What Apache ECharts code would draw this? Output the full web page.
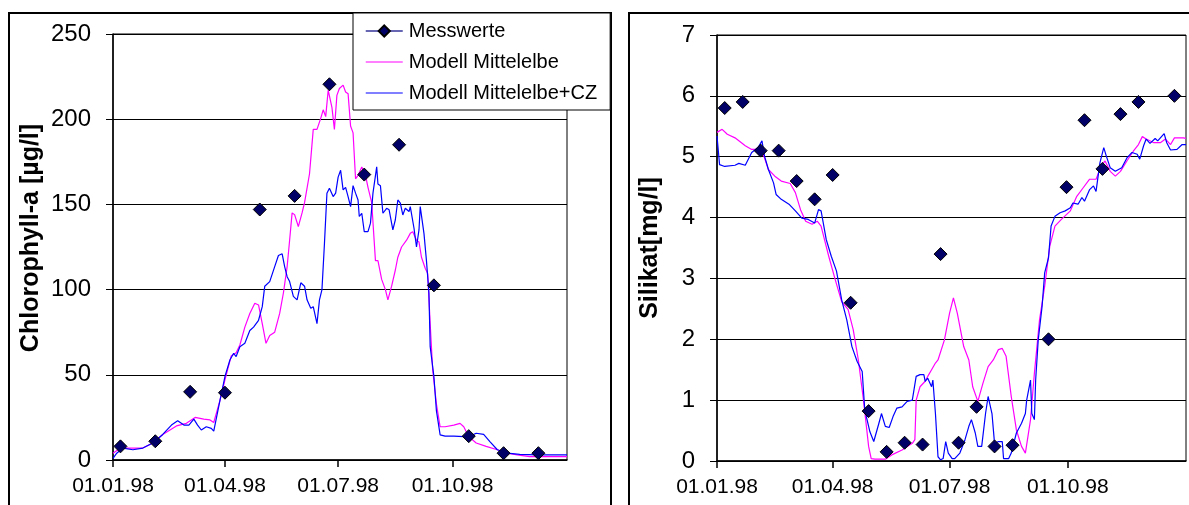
<!DOCTYPE html>
<html>
<head>
<meta charset="utf-8">
<title>Chlorophyll-a / Silikat</title>
<script src="https://cdn.jsdelivr.net/npm/echarts@6.0.0/dist/echarts.min.js"></script>
<style>
    html, body { margin: 0; padding: 0; background: #fff; }
    #main { width: 1189px; height: 505px; }
</style>
</head>
<body>
<div id="main"></div>
<script>
// x achse: Tage ab 01.01.98
var tickDays = [0, 90, 181, 273];
var tickLabels = ['01.01.98', '01.04.98', '01.07.98', '01.10.98'];

var seriesNames = ['Messwerte', 'Modell Mittelelbe', 'Modell Mittelelbe+CZ'];

// Chlorophyll-a [µg/l]
var chlMessDays = [6, 34, 62, 90, 118, 146, 174, 202, 230, 258, 286, 314, 342];
var chlMessValues = [8, 11, 40, 39.5, 147, 155, 220.5, 167.5, 185, 102.5, 14, 4, 4];

var chlMittelelbe = [[0,4],[6,7],[14,7],[24,7],[32,10],[40,15],[51,20],[59,21.5],[66,25],[73,24],[78,23.5],[81,22],[86,35],[90,47],[95,61],[99,63],[102,67.5],[106,78],[110,86],[114,92],[117,91],[120,80],[123,68.5],[126,73],[130,75],[134,86],[137,98],[140,113.5],[142,129],[144,145],[146,144],[149,137],[152,145],[154,151],[158,168],[161,194],[164,194],[167,200.5],[169,205.5],[171,201.5],[173,217],[176,207],[178,194],[180,214],[182,218],[185,220],[187,216],[189,215],[191,196],[193,192],[195,165],[197,167],[200,172],[203,167],[205,160],[208,151],[211,117],[213,117],[216,106],[219,100],[221,94],[224,102],[227,111.5],[229,119],[232,125],[236,129],[239,133],[241,134],[244,129],[246,128],[248,119],[251,112.5],[253,109.5],[255,80],[257,53],[260,33],[263,19.5],[267,19.5],[274,20.5],[279,21.5],[282,19.5],[286,13.7],[292,10],[300,8],[309,6],[317,4],[325,3],[335,2],[349,2],[365,2]];

var chlMittelelbeCz = [[0,1],[3,4],[8,7],[16,6],[24,7],[32,10],[40,15],[47,20.5],[52,23],[57,20.5],[61,20.5],[65,24],[68,20.5],[71,17.6],[75,19.5],[79,18.6],[81,17],[86,35],[90,49],[94,58.7],[97,62.6],[99,60.7],[102,66.5],[106,68.5],[110,76],[113,78],[117,82],[120,90],[122,102],[126,104.7],[130,113.5],[133,120],[136,121],[138,113.5],[140,107.6],[142,104.7],[145,96],[148,94],[151,104],[154,102],[156,94],[159,89],[161,90],[164,80],[166,94],[168,100],[170,127],[172,156.6],[174,159.5],[177,154.6],[179,156.6],[181,166],[183,170],[185,158.5],[187,160],[189,154.6],[191,148.7],[193,161],[195,156.6],[197,152.6],[198,142.9],[200,144.8],[202,134],[205,134],[207,139],[209,156.6],[212,172],[213,162],[215,161],[217,144.8],[220,147.7],[222,146.8],[225,135],[227,141],[229,152.6],[231,150.7],[233,143.8],[235,147.7],[238,145.8],[239,148.7],[242,136],[244,125],[246,135],[247,148.7],[250,133],[252,117],[254,98],[255,66.5],[258,49],[260,29],[263,14.7],[267,14],[274,14],[282,13.7],[287,14],[292,15.7],[298,15],[303,10.8],[309,6],[317,4],[327,3.3],[341,3],[365,3]];

// Silikat [mg/l]
var silMessDays = [6, 20, 34, 48, 62, 76, 90, 104, 118, 132, 146, 160, 174, 188, 202, 216, 230, 258, 272, 286, 300, 314, 328, 356];
var silMessValues = [5.8, 5.9, 5.1, 5.1, 4.6, 4.3, 4.7, 2.6, 0.82, 0.15, 0.3, 0.27, 3.4, 0.3, 0.89, 0.24, 0.26, 2.0, 4.5, 5.6, 4.8, 5.7, 5.9, 6.0];

var silMittelelbe = [[0,5.4],[4,5.45],[8,5.37],[14,5.31],[22,5.18],[27,5.12],[32,5.12],[36,5.04],[40,4.79],[45,4.68],[50,4.6],[57,4.56],[61,4.41],[65,4.13],[69,3.94],[74,3.89],[78,3.94],[81,3.86],[87,3.36],[92,2.98],[97,2.62],[102,2.49],[106,2.16],[110,1.66],[114,1.0],[118,0.24],[120,0.04],[123,0.03],[131,0.03],[136,0.1],[144,0.18],[152,0.29],[154,0.35],[155,1.0],[158,1.22],[162,1.31],[164,1.39],[167,1.5],[170,1.61],[172,1.66],[177,1.99],[181,2.43],[184,2.68],[187,2.43],[192,1.88],[196,1.66],[199,1.22],[203,0.98],[207,1.28],[211,1.55],[215,1.66],[219,1.83],[222,1.85],[225,1.72],[229,1.06],[233,0.51],[237,0.24],[240,0.13],[244,0.68],[247,1.44],[251,2.32],[255,2.87],[259,3.53],[263,3.86],[268,3.97],[275,4.11],[280,4.35],[285,4.49],[290,4.63],[295,4.63],[299,4.85],[302,4.93],[306,4.76],[310,4.68],[314,4.76],[319,4.93],[324,5.09],[328,5.2],[331,5.33],[334,5.29],[340,5.23],[345,5.23],[349,5.29],[353,5.2],[356,5.31],[363,5.31],[365,5.3]];

var silMittelelbeCz = [[0,5.34],[2,4.87],[6,4.84],[14,4.86],[17,4.89],[22,4.86],[27,5.07],[32,5.15],[35,5.26],[37,5.01],[40,4.79],[44,4.57],[46,4.38],[50,4.3],[56,4.22],[61,4.11],[66,3.99],[71,3.97],[76,3.91],[79,4.13],[81,4.11],[85,3.64],[89,3.36],[93,3.12],[97,2.65],[101,2.32],[105,1.88],[109,1.64],[113,1.47],[115,0.84],[119,0.48],[122,0.32],[126,0.62],[128,0.78],[131,0.57],[134,0.55],[137,0.73],[140,0.87],[144,0.89],[148,0.98],[152,1.0],[155,1.39],[158,1.42],[161,1.42],[162,1.31],[164,1.36],[167,1.22],[168,1.33],[170,0.78],[172,0.07],[174,0.02],[176,0.04],[178,0.32],[180,0.13],[183,0.04],[185,0.04],[189,0.13],[193,0.35],[196,0.57],[198,0.68],[201,0.46],[203,0.24],[206,0.24],[209,0.78],[211,1.06],[214,0.78],[216,0.29],[219,0.32],[222,0.32],[223,0.04],[227,0.04],[229,0.13],[233,0.46],[237,0.62],[240,0.78],[241,1.0],[244,1.33],[245,0.78],[247,0.68],[248,1.33],[250,1.99],[253,2.54],[255,3.09],[258,3.34],[260,3.86],[263,4.02],[267,4.08],[271,4.11],[275,4.16],[277,4.24],[281,4.22],[284,4.33],[286,4.27],[290,4.46],[293,4.52],[295,4.43],[298,4.9],[301,5.15],[303,5.01],[306,4.82],[310,4.76],[315,4.82],[319,4.98],[323,5.07],[327,5.04],[329,4.96],[332,5.18],[334,5.29],[337,5.22],[341,5.3],[343,5.26],[348,5.38],[350,5.23],[353,5.11],[358,5.12],[362,5.2],[365,5.2]];

var FONT = '"Liberation Sans", Arial, sans-serif';

var zip = function (xs, ys) {
    var out = [];
    for (var i = 0; i < xs.length; i++) {
        out.push([xs[i], ys[i]]);
    }
    return out;
};

var xAxisFor = function (gridIndex) {
    return {
        type: 'value',
        gridIndex: gridIndex,
        min: 0,
        max: 365,
        axisLine: { show: true, onZero: false, lineStyle: { color: '#000', width: 1.5 } },
        axisTick: { show: true, customValues: tickDays, length: 7, lineStyle: { color: '#000', width: 1.5 } },
        axisLabel: {
            customValues: tickDays,
            margin: 16,
            color: '#000',
            fontSize: 21,
            fontFamily: FONT,
            formatter: function (v) {
                var i = tickDays.indexOf(v);
                return i === -1 ? '' : tickLabels[i];
            }
        },
        splitLine: { show: false }
    };
};

var yAxisFor = function (gridIndex, max, interval) {
    return {
        type: 'value',
        gridIndex: gridIndex,
        min: 0,
        max: max,
        interval: interval,
        axisLine: { show: true, lineStyle: { color: '#000', width: 1.5 } },
        axisTick: { show: true, length: 7, lineStyle: { color: '#000', width: 1 } },
        axisLabel: { margin: 22, color: '#000', fontSize: 24, fontFamily: FONT },
        splitLine: { show: true, lineStyle: { color: '#000', width: 1 } }
    };
};

var messSeries = function (idx, data) {
    return {
        name: seriesNames[0],
        type: 'line',
        xAxisIndex: idx,
        yAxisIndex: idx,
        data: data,
        symbol: 'diamond',
        symbolSize: 13,
        showSymbol: true,
        z: 5,
        lineStyle: { opacity: 0 },
        itemStyle: { color: '#000066', borderColor: '#000', borderWidth: 1 },
        emphasis: { disabled: true }
    };
};

var modelSeries = function (idx, name, color, data) {
    return {
        name: name,
        type: 'line',
        xAxisIndex: idx,
        yAxisIndex: idx,
        data: data,
        showSymbol: false,
        symbol: 'none',
        z: 3,
        itemStyle: { color: color },
        lineStyle: { color: color, width: 1.2 },
        emphasis: { disabled: true }
    };
};

var options = {
    animation: false,
    backgroundColor: '#fff',
    textStyle: { fontFamily: FONT },
    grid: [
        { left: 113, top: 34, width: 454, height: 426, show: true, borderColor: '#000', borderWidth: 1, backgroundColor: 'transparent' },
        { left: 717, top: 35, width: 469, height: 426, show: true, borderColor: '#000', borderWidth: 1, backgroundColor: 'transparent' }
    ],
    xAxis: [xAxisFor(0), xAxisFor(1)],
    yAxis: [yAxisFor(0, 250, 50), yAxisFor(1, 7, 1)],
    legend: {
        orient: 'vertical',
        left: 353,
        top: 13,
        padding: [8, 13, 7, 12],
        itemGap: 11,
        itemWidth: 37,
        itemHeight: 14,
        selectedMode: false,
        backgroundColor: '#fff',
        borderColor: '#000',
        borderWidth: 1,
        z: 10,
        textStyle: { fontSize: 20, color: '#000', fontFamily: FONT, padding: [0, 0, 0, 1] },
        data: [
            { name: seriesNames[0], lineStyle: { opacity: 1, color: '#333399', width: 1.5 } },
            { name: seriesNames[1], itemStyle: { opacity: 0 }, lineStyle: { color: '#ff00ff', width: 1.2 } },
            { name: seriesNames[2], itemStyle: { opacity: 0 }, lineStyle: { color: '#0000ff', width: 1.2 } }
        ]
    },
    graphic: [
        // Rahmen der beiden Diagramme
        { type: 'rect', z: 1, shape: { x: 9, y: 13, width: 602, height: 520 }, style: { fill: 'none', stroke: '#000', lineWidth: 2 } },
        { type: 'rect', z: 1, shape: { x: 629, y: 13, width: 590, height: 520 }, style: { fill: 'none', stroke: '#000', lineWidth: 2 } },
        // Achsentitel
        { type: 'text', x: 31, y: 238, rotation: Math.PI / 2,
          style: { text: 'Chlorophyll-a [µg/l]', fontSize: 25, fontWeight: 'bold', fontFamily: FONT, fill: '#000', align: 'center', verticalAlign: 'middle', textAlign: 'center', textVerticalAlign: 'middle' } },
        { type: 'text', x: 650, y: 248, rotation: Math.PI / 2,
          style: { text: 'Silikat[mg/l]', fontSize: 25, fontWeight: 'bold', fontFamily: FONT, fill: '#000', align: 'center', verticalAlign: 'middle', textAlign: 'center', textVerticalAlign: 'middle' } }
    ],
    series: [
        modelSeries(0, seriesNames[1], '#ff00ff', chlMittelelbe),
        modelSeries(0, seriesNames[2], '#0000ff', chlMittelelbeCz),
        messSeries(0, zip(chlMessDays, chlMessValues)),
        modelSeries(1, seriesNames[1], '#ff00ff', silMittelelbe),
        modelSeries(1, seriesNames[2], '#0000ff', silMittelelbeCz),
        messSeries(1, zip(silMessDays, silMessValues))
    ]
};

var chart = echarts.init(document.getElementById('main'));
chart.setOption(options);
</script>
</body>
</html>
